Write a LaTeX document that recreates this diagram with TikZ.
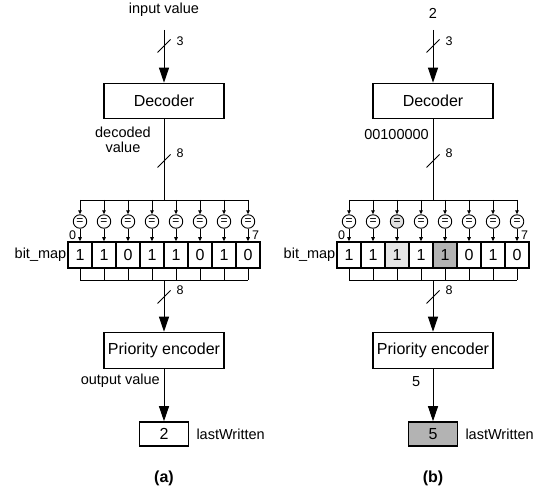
\documentclass[tikz,border=0pt]{standalone}
\usepackage{fontspec}
\setmainfont{Liberation Sans}
\usetikzlibrary{arrows.meta}
\definecolor{lightg}{HTML}{E6E6E6}
\definecolor{cmpg}{HTML}{E0E0E0}
\definecolor{darkg}{HTML}{B3B3B3}
\tikzset{
 blk/.style={draw, line width=1.6pt, minimum width=120pt, minimum height=35pt, inner sep=0pt, font=\fontsize{16}{18}\selectfont},
 cellbox/.style={draw, line width=1.6pt, minimum width=24pt, minimum height=26pt, inner sep=0pt, font=\fontsize{16}{18}\selectfont},
 cmp/.style={draw, circle, line width=0.9pt, minimum size=13.5pt, inner sep=0pt, font=\fontsize{12}{12}\selectfont},
 wire/.style={line width=0.9pt},
 bigarrow/.style={wire, -{Triangle[width=10pt,length=15pt]}},
 smallarrow/.style={wire, -{Triangle[width=3.5pt,length=4pt]}},
 lbl/.style={font=\fontsize{14.5}{15}\selectfont, inner sep=0pt},
 num/.style={font=\fontsize{12.5}{14}\selectfont, inner sep=0pt},
 captext/.style={font=\bfseries\fontsize{16}{18}\selectfont, inner sep=0pt},
}
% #1 prefix, #2 xshift, #3 input baseline, #4 input text, #5 decoder-out label,
% #6 lastWritten value, #7 lastWritten fill, #8 output label + caption, #9 cells
\newcommand\drawpanel[9]{%
\begin{scope}[xshift=#2pt]
 \node[lbl, anchor=base] (#1in) at (164,#3) {#4};
 \coordinate (#1top) at (164,30);
 \node[blk] (#1dec) at (164,101) {Decoder};
 \draw[bigarrow] (#1top) -- (#1dec.north);
 \coordinate (#1s1) at (164,46);
 \draw[wire] ([shift={(-6.5,6.5)}]#1s1) -- ([shift={(6.5,-6.5)}]#1s1);
 \node[num] (#1n1) at (180,41) {3};
 \coordinate (#1bus) at (164,200);
 \draw[wire] (#1dec.south) -- (#1bus);
 \coordinate (#1s2) at (164,161);
 \draw[wire] ([shift={(-6.5,6.5)}]#1s2) -- ([shift={(6.5,-6.5)}]#1s2);
 \node[num] (#1n2) at (180,153) {8};
 #5
 \foreach \i/\v/\cf/\bf in {#9}{
   \node[cmp, fill=\cf] (#1c\i) at (80+24*\i,221.5) {=};
   \node[cellbox, fill=\bf] (#1b\i) at (80+24*\i,255) {\v};
   \coordinate (#1t\i) at (80+24*\i,200);
   \coordinate (#1u\i) at (80+24*\i,280);
   \draw[smallarrow] (#1t\i) -- (#1c\i);
   \draw[smallarrow] (#1c\i) -- (#1b\i);
   \draw[wire] (#1b\i) -- (#1u\i);
 }
 \draw[wire] (#1t0) -- (#1t7);
 \draw[wire] (#1u0) -- (#1u7);
 \node[num] (#1z0) at (72.5,235.5) {0};
 \node[num] (#1z7) at (255.5,235.5) {7};
 \node[lbl, anchor=east] (#1bm) at (66.5,255) {bit\_map};
 \node[blk, minimum height=36pt] (#1pe) at (164,350.5) {Priority encoder};
 \coordinate (#1pbus) at (164,280);
 \draw[bigarrow] (#1pbus) -- (#1pe.north);
 \coordinate (#1s3) at (164,297);
 \draw[wire] ([shift={(-6.5,6.5)}]#1s3) -- ([shift={(6.5,-6.5)}]#1s3);
 \node[num] (#1n3) at (180,290) {8};
 \node[cellbox, minimum width=49pt, minimum height=24pt, fill=#7] (#1lw) at (164,434) {#6};
 \draw[bigarrow] (#1pe.south) -- (#1lw.north);
 \node[lbl, anchor=west] (#1lwl) at ([xshift=7pt]#1lw.east) {lastWritten};
 #8
\end{scope}}
\begin{document}
\begin{tikzpicture}[x=1pt,y=-1pt]
\useasboundingbox (0,0) rectangle (545,494);
\drawpanel{a}{0}{14}{input value}%
 {\node[lbl, align=center] (adl) at (123,140) {decoded\\value};}%
 {2}{white}%
 {\node[lbl, anchor=east] (aol) at (160,381) {output value};
  \node[captext] (acap) at (164,478) {(a)};}%
 {0/1/white/white,1/1/white/white,2/0/white/white,3/1/white/white,4/1/white/white,5/0/white/white,6/1/white/white,7/0/white/white}
\drawpanel{b}{269}{19}{2}%
 {\node[lbl, anchor=east] (bdl) at (160,135) {00100000};}%
 {5}{darkg}%
 {\node[lbl, anchor=east] (bol) at (151.5,382) {5};
  \node[captext] (bcap) at (164,478) {(b)};}%
 {0/1/white/white,1/1/white/white,2/1/cmpg/lightg,3/1/white/white,4/1/white/darkg,5/0/white/white,6/1/white/white,7/0/white/white}
\end{tikzpicture}
\end{document}
